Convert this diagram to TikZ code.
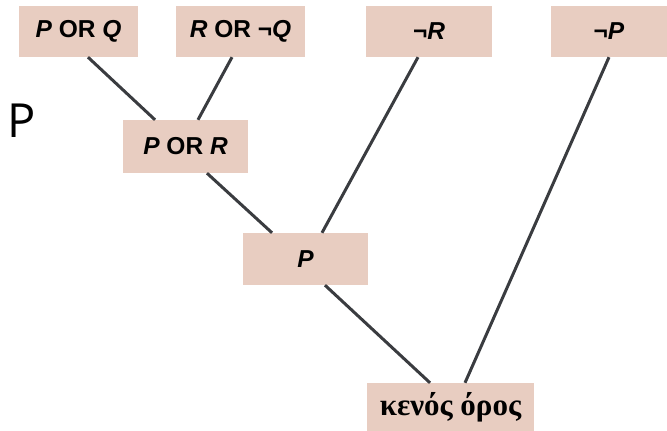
\documentclass[tikz,border=0pt]{standalone}
\usepackage{fontspec}
\setmainfont{Liberation Sans}
\newfontfamily\clausefont{Liberation Sans}
\newfontfamily\greekfont{Liberation Serif}
\newfontfamily\sidefont{Open Sans}
\definecolor{boxfill}{RGB}{232,205,193}
\definecolor{edgecol}{RGB}{58,60,64}
\begin{document}
\begin{tikzpicture}[x=1pt,y=-1pt,
  clause/.style={rectangle, fill=boxfill, draw=none, inner sep=0pt,
    minimum height=51pt, font=\clausefont\fontsize{24.5}{28}\selectfont\bfseries},
  edge/.style={draw=edgecol, line width=3pt}]
  \useasboundingbox (0,0) rectangle (667,431);

  % premises on the top row
  \node[clause, minimum width=119pt] (pq)  at (78.5,31.5)  {\textit{P} OR \textit{Q}};
  \node[clause, minimum width=129pt] (rnq) at (240.5,31.5) {\textit{R} OR ¬\textit{Q}};
  \node[clause, minimum width=126pt] (nr)  at (429,31.5)   {¬\textit{R}};
  \node[clause, minimum width=116pt] (np)  at (609,31.5)   {¬\textit{P}};

  % resolvents
  \node[clause, minimum width=125pt, minimum height=53pt] (por) at (185.5,146.5) {\textit{P} OR \textit{R}};
  \node[clause, minimum width=125pt, minimum height=52pt] (p)   at (305.5,259)   {\textit{P}};
  \node[clause, minimum width=167pt, minimum height=48pt,
        font=\greekfont\fontsize{31}{34}\selectfont\bfseries] (empty) at (450.5,407) {κενός όρος};

  % side label
  \node[font=\sidefont\fontsize{47}{50}\selectfont, inner sep=0pt, anchor=base west] (lbl) at (7,137) {P};

  % resolution steps
  \draw[edge] ([xshift=9.5pt]pq.south)   -- ([xshift=-30.5pt]por.north);
  \draw[edge] ([xshift=-8.5pt]rnq.south) -- ([xshift=12.5pt]por.north);
  \draw[edge] ([xshift=21.5pt]por.south) -- ([xshift=-33.5pt]p.north);
  \draw[edge] ([xshift=-11pt]nr.south)   -- ([xshift=16.5pt]p.north);
  \draw[edge] ([xshift=19.5pt]p.south)   -- ([xshift=-20.5pt]empty.north);
  \draw[edge] (np.south)                 -- ([xshift=14.5pt]empty.north);
\end{tikzpicture}
\end{document}
